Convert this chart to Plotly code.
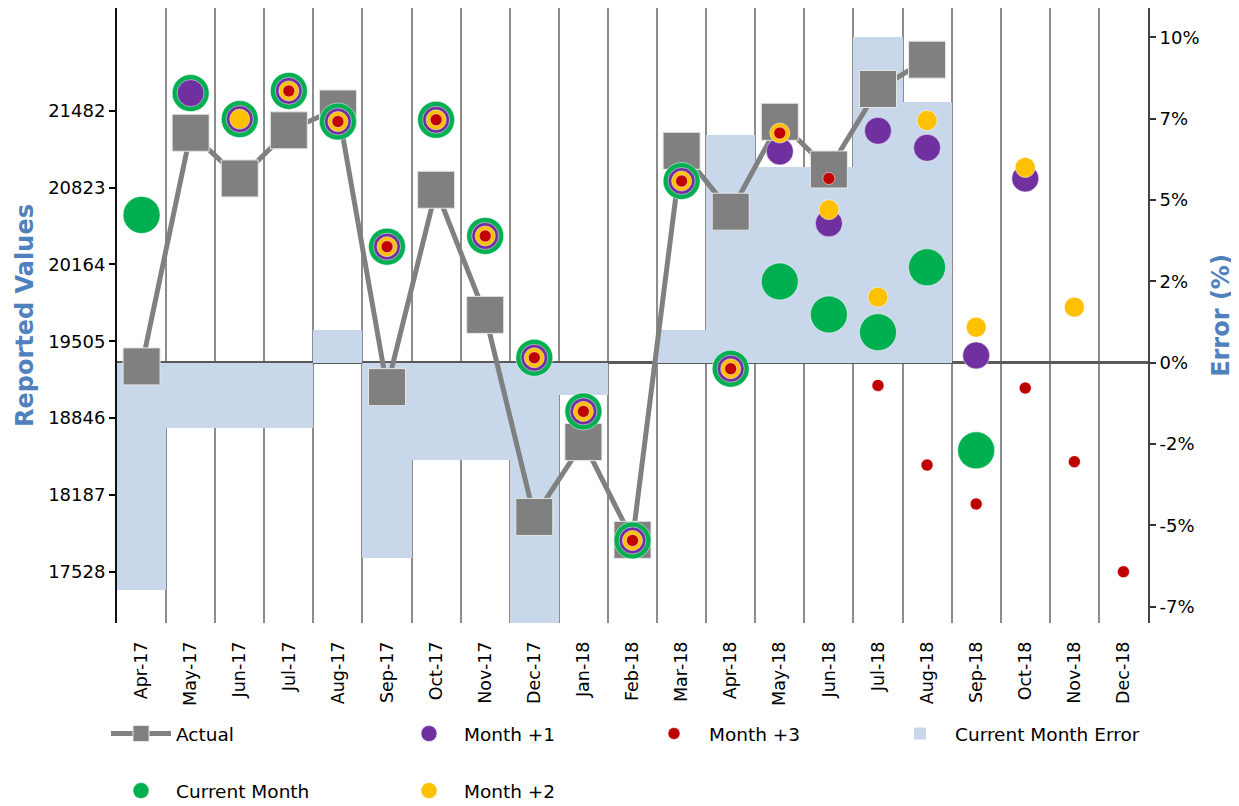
import plotly.graph_objects as go

months = ["Apr-17", "May-17", "Jun-17", "Jul-17", "Aug-17", "Sep-17", "Oct-17",
          "Nov-17", "Dec-17", "Jan-18", "Feb-18", "Mar-18", "Apr-18", "May-18",
          "Jun-18", "Jul-18", "Aug-18", "Sep-18", "Oct-18", "Nov-18", "Dec-18"]

actual = [19290, 21294, 20902, 21315, 21502, 19112, 20805, 19732, 17999, 18641,
          17802, 21139, 20617, 21388, 20979, 21669, 21921, None, None, None, None]

current_month = [20589, 21634, 21411, 21653, 21390, 20317, 21405, 20409, 19364, 18904,
                 17797, 20880, 19270, 20018, 19735, 19583, 20140, 18570, None, None, None]

month_plus1 = [None, 21634, 21411, 21653, 21390, 20317, 21405, 20409, 19364, 18904,
               17797, 20880, 19270, 21134, 20517, 21311, 21165, 19384, 20902, None, None]

month_plus2 = [None, None, 21411, 21653, 21390, 20317, 21405, 20409, 19364, 18904,
               17797, 20880, 19270, 21291, 20634, 19883, 21399, 19626, 20996, 19798, None]

month_plus3 = [None, None, None, 21653, 21390, 20317, 21405, 20409, 19364, 18904,
               17797, 20880, 19270, 21291, 20902, 19127, 18444, 18110, 19104, 18473, 17528]

current_error = [-7, -2, -2, -2, 1, -6, -3, -3, -10, -1, 0, 1, 7, 6, 6, 10, 8,
                 None, None, None, None]

value_ticks = [17528, 18187, 18846, 19505, 20164, 20823, 21482]
error_ticks = [-7.5, -5, -2.5, 0, 2.5, 5, 7.5, 10]
error_tick_text = ["-7%", "-5%", "-2%", "0%", "2%", "5%", "7%", "10%"]

GREEN = "#00B050"
PURPLE = "#7030A0"
YELLOW = "#FFC000"
RED = "#C00000"
GRAY = "#808080"
BAR = "#C9D7EA"
TITLE = "#4F81BD"
FONT = "DejaVu Sans"

fig = go.Figure()

fig.add_trace(go.Bar(
    x=months, y=current_error, yaxis="y", name="Current Month Error",
    marker=dict(color=BAR, line=dict(width=0)),
    legend="legend4", legendgroup="err", hoverinfo="skip"))

fig.add_trace(go.Scatter(
    x=months, y=actual, yaxis="y2", name="Actual", mode="lines+markers",
    line=dict(color=GRAY, width=5),
    marker=dict(symbol="square", size=37, color=GRAY, line=dict(color="#e6e6e6", width=1)),
    legend="legend", legendgroup="act"))

fig.add_trace(go.Scatter(
    x=months, y=current_month, yaxis="y2", name="Current Month", mode="markers",
    marker=dict(size=37, color=GREEN, line=dict(color="#ffffff", width=0.5)),
    legend="legend", legendgroup="cur"))

fig.add_trace(go.Scatter(
    x=months, y=month_plus1, yaxis="y2", name="Month +1", mode="markers",
    marker=dict(size=27, color=PURPLE, line=dict(color="#ffffff", width=0.5)),
    legend="legend2", legendgroup="m1"))

fig.add_trace(go.Scatter(
    x=months, y=month_plus2, yaxis="y2", name="Month +2", mode="markers",
    marker=dict(size=20, color=YELLOW, line=dict(color="#ffffff", width=0.5)),
    legend="legend2", legendgroup="m2"))

fig.add_trace(go.Scatter(
    x=months, y=month_plus3, yaxis="y2", name="Month +3", mode="markers",
    marker=dict(size=12, color=RED, line=dict(color="#ffffff", width=0.5)),
    legend="legend3", legendgroup="m3"))

# page layout (the figure div sits at an 8px offset inside the page)
OFF = 8
W, H = 1239, 840
plot_l, plot_r, plot_t, plot_b = 117, 1148, 8, 623   # in page pixels
pw = plot_r - plot_l
ph = plot_b - plot_t


def px_to_paper_x(px):
    return (px - plot_l) / pw


def px_to_paper_y(py):
    return (plot_b - py) / ph


ITEMW = 60
legend_common = dict(
    orientation="v", xanchor="left", yanchor="top",
    font=dict(family=FONT, size=18.5, color="#000000"),
    bgcolor="rgba(0,0,0,0)", borderwidth=0, itemsizing="trace",
    tracegroupgap=30, itemwidth=ITEMW,
)
legend_top = px_to_paper_y(715)
text_gap = ITEMW + 10

fig.update_layout(
    width=W, height=H,
    margin=dict(l=plot_l - OFF, r=W + OFF - plot_r, t=plot_t - OFF, b=H + OFF - plot_b),
    paper_bgcolor="white", plot_bgcolor="white",
    font=dict(family=FONT, size=18, color="#000000"),
    bargap=0,
    showlegend=True,
    hovermode=False,
    legend=dict(x=px_to_paper_x(176 - text_gap), y=legend_top, **legend_common),
    legend2=dict(x=px_to_paper_x(464 - text_gap), y=legend_top, **legend_common),
    legend3=dict(x=px_to_paper_x(709 - text_gap), y=legend_top, **legend_common),
    legend4=dict(x=px_to_paper_x(955 - text_gap), y=legend_top, **legend_common),
    xaxis=dict(
        type="category", range=[-0.5, len(months) - 0.5],
        showgrid=True, tickson="boundaries", gridcolor="#8c8c8c", gridwidth=1.5,
        ticks="", tickangle=-90, tickfont=dict(family=FONT, size=17.5, color="#000000"),
        showline=False, zeroline=False, ticklabelstandoff=14,
    ),
    yaxis=dict(
        side="right", range=[-8.0, 10.9],
        tickvals=error_ticks, ticktext=error_tick_text,
        ticks="outside", ticklen=6, tickwidth=1.5, tickcolor="#333333",
        tickfont=dict(family=FONT, size=18, color="#000000"),
        showline=True, linecolor="#444444", linewidth=2,
        showgrid=False, zeroline=True, zerolinecolor="#5a5a5a", zerolinewidth=2.5,
        title=dict(text="Error (%)", standoff=14,
                   font=dict(family=FONT, size=24, color=TITLE, weight="bold")),
    ),
    yaxis2=dict(
        overlaying="y", side="left", anchor="x", range=[17089, 22364],
        tickvals=value_ticks, ticktext=[str(v) for v in value_ticks],
        ticks="outside", ticklen=6, tickwidth=1.5, tickcolor="#000000",
        tickfont=dict(family=FONT, size=18, color="#000000"),
        showline=True, linecolor="#111111", linewidth=2,
        showgrid=False, zeroline=False,
        title=dict(text="Reported Values", standoff=8,
                   font=dict(family=FONT, size=24, color=TITLE, weight="bold")),
    ),
)

fig.write_html("out.html")
